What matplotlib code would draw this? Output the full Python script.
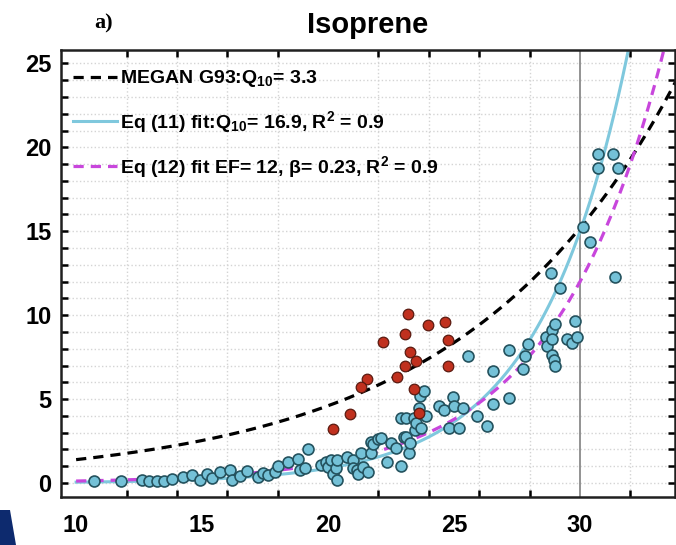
import numpy as np
import matplotlib
matplotlib.use("Agg")
import matplotlib.pyplot as plt
from matplotlib.patches import Polygon

plt.rcParams['font.family'] = ['Liberation Sans', 'DejaVu Sans']
plt.rcParams['font.weight'] = 'bold'
plt.rcParams['mathtext.fontset'] = 'custom'
plt.rcParams['mathtext.rm'] = 'Liberation Sans:bold'
plt.rcParams['mathtext.it'] = 'Liberation Sans:bold'
plt.rcParams['mathtext.bf'] = 'Liberation Sans:bold'
plt.rcParams['mathtext.default'] = 'rm'

blue_x = [10.7, 11.8, 12.6, 12.9, 13.2, 13.5, 13.8, 14.25, 14.6, 14.9, 15.2, 15.4, 15.7,
          16.1, 16.2, 16.5, 16.8, 17.2, 17.4, 17.6, 17.9, 18.0, 18.4, 18.8, 18.9, 19.2,
          19.1, 19.7, 19.9, 20.0, 20.1, 20.2, 20.35, 20.3, 20.35,
          20.75, 21.0, 21.0, 21.15, 21.2, 21.3, 21.4, 21.6, 21.7, 21.7, 21.8, 22.0, 22.1,
          22.35, 22.5, 22.7, 22.9, 23.0, 23.1, 23.2, 23.25, 22.9, 23.1, 23.4, 23.45, 23.5,
          23.6, 23.65, 23.8, 23.7, 23.9, 24.4, 24.6, 24.8, 24.95, 25.0, 25.2, 25.35, 25.9,
          26.3, 26.55, 27.2, 25.55, 26.55, 27.2, 27.75, 27.8, 27.95,
          28.65, 28.7, 28.9, 28.9, 28.9, 28.95, 29.0, 29.0, 28.85, 29.2, 29.5, 29.7, 29.8,
          29.9, 30.1, 30.4, 30.7, 31.3, 30.7, 31.5, 31.4]
blue_y = [0.1, 0.15, 0.2, 0.1, 0.15, 0.1, 0.25, 0.35, 0.5, 0.2, 0.55, 0.3, 0.65,
          0.8, 0.2, 0.4, 0.7, 0.35, 0.6, 0.5, 0.65, 1.0, 1.25, 1.45, 0.8, 2.0,
          0.9, 1.1, 1.25, 0.95, 1.35, 0.55, 0.2, 0.9, 1.35,
          1.55, 1.4, 0.9, 0.8, 0.55, 1.8, 0.95, 0.65, 1.8, 2.45, 2.3, 2.65, 2.7,
          1.25, 2.4, 2.1, 1.0, 2.75, 2.75, 1.8, 2.4, 3.9, 3.9, 3.9, 3.15, 3.6,
          4.5, 5.2, 5.5, 3.3, 4.0, 4.6, 4.35, 3.3, 5.1, 4.6, 3.3, 4.5, 4.0,
          3.4, 4.7, 5.05, 7.55, 6.65, 7.9, 6.8, 7.55, 8.3,
          8.7, 8.15, 9.1, 8.6, 7.6, 7.35, 6.95, 9.5, 12.5, 11.65, 8.6, 8.35, 9.65,
          8.7, 15.25, 14.35, 19.6, 19.6, 18.75, 18.75, 12.3]

red_x = [23.17, 23.97, 24.64, 23.06, 22.2, 24.76, 23.25, 23.5, 23.06, 24.76,
         22.74, 21.55, 21.3, 23.4, 20.87, 23.6, 20.2]
red_y = [10.1, 9.4, 9.6, 8.9, 8.4, 8.5, 7.8, 7.3, 7.0, 7.0,
         6.3, 6.2, 5.7, 5.6, 4.1, 4.2, 3.2]

# model parameters (values at the 30 C reference temperature)
megan_q10 = 3.3
megan_e30 = 15.2
eq11_q10 = 16.9
eq11_e30 = 15.0
eq12_ef = 12.0
eq12_beta = 0.23
t_ref = 30

labels = ['MEGAN G93:Q$_{10}$= 3.3',
          'Eq (11) fit:Q$_{10}$= 16.9, R$^{2}$ = 0.9',
          'Eq (12) fit EF= 12, \u03b2= 0.23, R$^{2}$ = 0.9']

T = np.linspace(10, 34, 300)
megan = megan_e30 * megan_q10 ** ((T - t_ref) / 10)
eq11 = eq11_e30 * eq11_q10 ** ((T - t_ref) / 10)
eq12 = eq12_ef * np.exp(eq12_beta * (T - t_ref))

fig = plt.figure(figsize=(6.76, 5.45), dpi=100)
ax = fig.add_axes([61 / 676, 1 - 497 / 545, (675 - 61) / 676, (497 - 50) / 545])

ax.axvline(30, color='#8a8a8a', lw=1.3, zorder=1)

l1, = ax.plot(T, megan, color='black', lw=2.3, dashes=(3.2, 2.2), zorder=2)
l2, = ax.plot(T, eq11, color='#7fc8dd', lw=2.2, zorder=2)
l3, = ax.plot(T, eq12, color='#c846dc', lw=2.3, dashes=(3.2, 2.2), zorder=2)

ax.scatter(blue_x, blue_y, s=62, facecolor='#74c1d7', edgecolor='#24525e',
           linewidth=1.2, zorder=3)
ax.scatter(red_x, red_y, s=58, facecolor='#c0301e', edgecolor='#5a1a10',
           linewidth=0.9, zorder=3)

ax.set_xlim(9.4, 33.77)
ax.set_ylim(-0.83, 25.8)

ax.set_xticks([10, 15, 20, 25, 30])
ax.set_xticks(np.arange(10, 34, 2), minor=True)
ax.set_yticks([0, 5, 10, 15, 20, 25])
ax.set_yticks(np.arange(0, 26, 1), minor=True)
ax.tick_params(axis='x', which='major', length=0, labelsize=17, pad=12)
ax.tick_params(axis='y', which='major', length=5, width=1.8, labelsize=17, pad=7)
ax.tick_params(which='both', direction='in', top=True, right=True)
ax.tick_params(which='minor', length=5, width=1.8)
ax.grid(which='minor', axis='x', color='#d4d4d4', ls=':', lw=1.0)
ax.grid(which='both', axis='y', color='#d4d4d4', ls=':', lw=1.0)
ax.set_axisbelow(True)
for sp in ax.spines.values():
    sp.set_linewidth(1.8)
    sp.set_color('#202020')

ax.set_title('Isoprene', fontsize=21, fontweight='bold', pad=12)
fig.text(0.140, 0.948, 'a)', family=['Liberation Serif', 'DejaVu Serif'],
         fontsize=16, fontweight='bold')

leg = ax.legend([l1, l2, l3], labels, loc='upper left', frameon=False,
                fontsize=14, handlelength=2.3, handletextpad=0.15,
                labelspacing=1.0, borderaxespad=0.2, bbox_to_anchor=(0.0, 0.985))

# dark patch cut off at the lower left corner of the source image
fig.patches.append(Polygon([[0, 0], [16 / 676, 0], [10 / 676, 35 / 545], [0, 35 / 545]],
                           closed=True, transform=fig.transFigure,
                           facecolor='#0d2a6e', edgecolor='none'))

fig.savefig('out.png', dpi=100)
